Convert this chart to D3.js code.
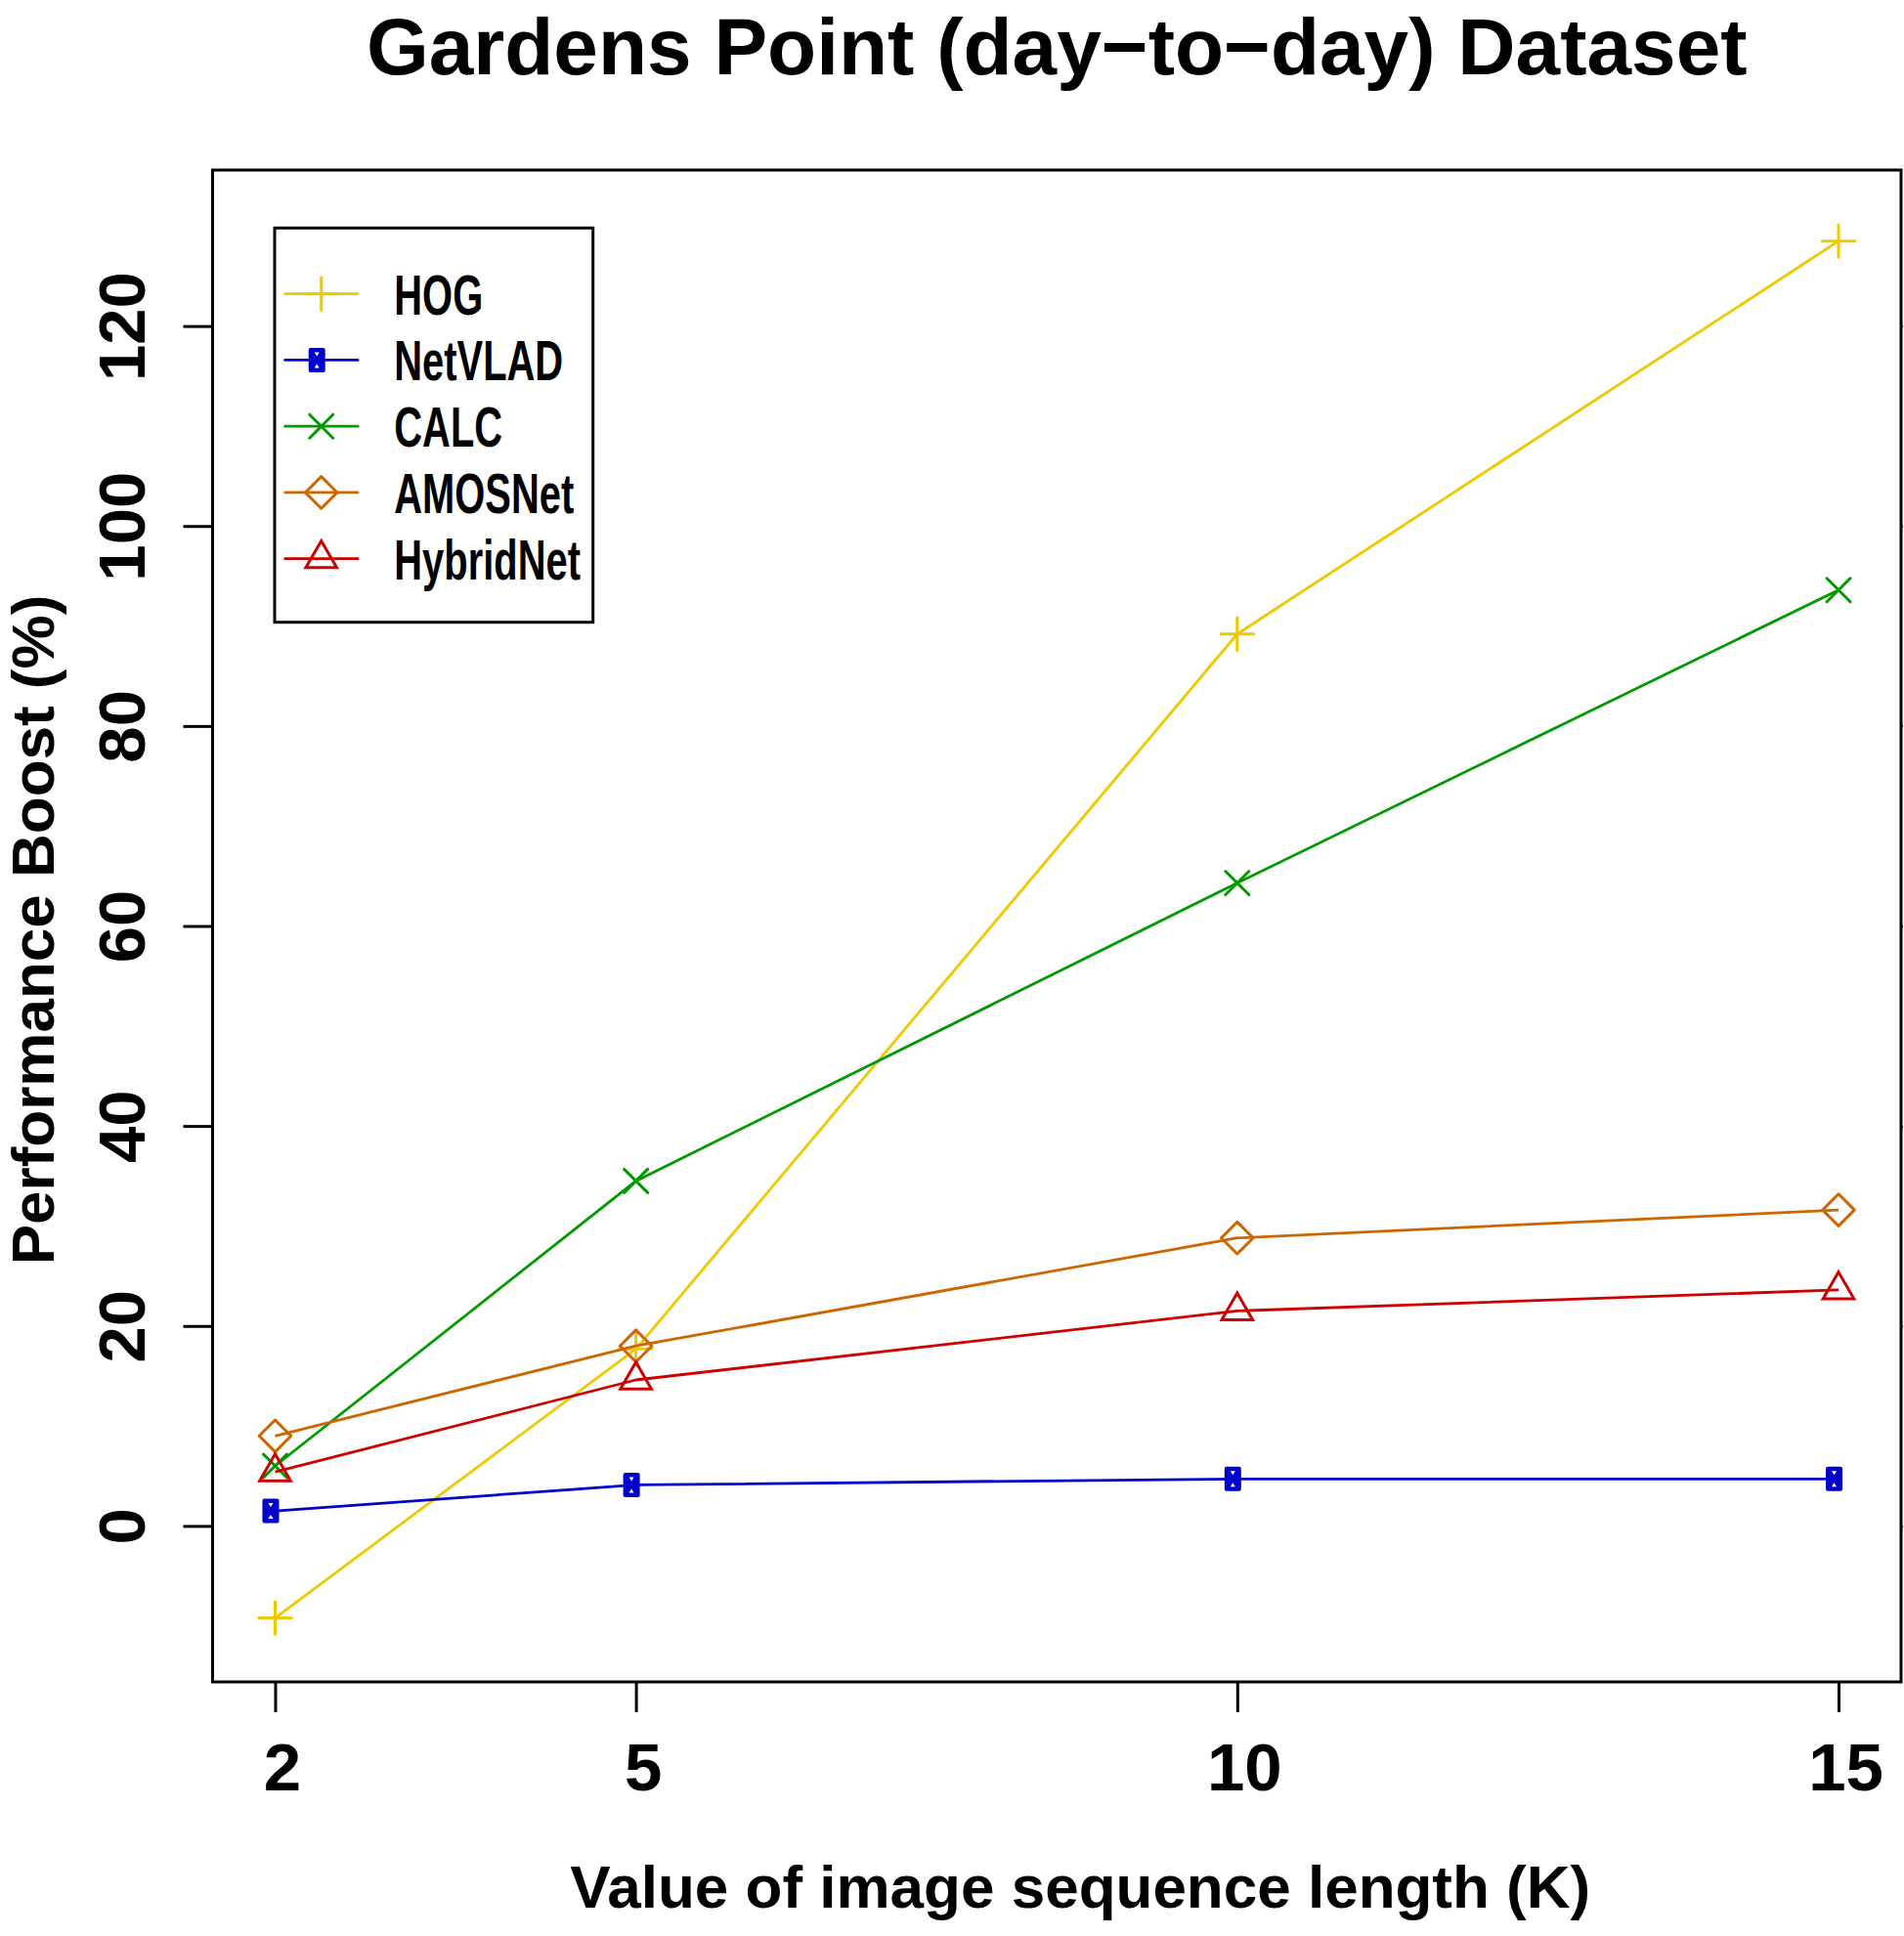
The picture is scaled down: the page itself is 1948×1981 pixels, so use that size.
<!DOCTYPE html>
<html><head><meta charset="utf-8">
<script src="https://cdn.jsdelivr.net/npm/d3@7"></script>
<style>html,body{margin:0;padding:0;background:#fff;}svg{display:block;}</style>
</head><body>
<script>
// ---- data ----
const kValues = [2, 5, 10, 15];
const hog       = [-9.2, 17.7, 89.2, 128.5];
const netvlad   = [1.5, 4.1, 4.7, 4.7];
const calc      = [6.0, 34.5, 64.3, 93.6];
const amosnet   = [9.0, 18.0, 28.8, 31.6];
const hybridnet = [5.4, 14.6, 21.5, 23.6];
const seriesNames = ["HOG", "NetVLAD", "CALC", "AMOSNet", "HybridNet"];
const yTicks = [0, 20, 40, 60, 80, 100, 120];
const xTicks = [2, 5, 10, 15];
const titleText = "Gardens Point (day\u2212to\u2212day) Dataset";
const xLabel = "Value of image sequence length (K)";
const yLabel = "Performance Boost (%)";

// ---- styles ----
const colors = {HOG:"#EEC900", NetVLAD:"#0000CD", CALC:"#009A00", AMOSNet:"#CD6600", HybridNet:"#CD0000"};
const shapes = {HOG:"plus", NetVLAD:"box", CALC:"cross", AMOSNet:"diamond", HybridNet:"triangle"};
const seriesValues = {HOG:hog, NetVLAD:netvlad, CALC:calc, AMOSNet:amosnet, HybridNet:hybridnet};

const W = 1948, H = 1981;
const plot = {left:217.5, right:1945, top:174, bottom:1721};
const FONT = "'Liberation Sans', Arial, Helvetica, sans-serif";

const svg = d3.select("body").append("svg").attr("width", W).attr("height", H);

// R-style 4% axis extension
function ext(a, b){ const d=(b-a)*0.04; return [a-d, b+d]; }
const x = d3.scaleLinear().domain(ext(2,15)).range([plot.left, plot.right]);
const y = d3.scaleLinear().domain(ext(-10,130)).range([plot.bottom, plot.top]);

// markers
function drawMarker(g, shape, color, cx, cy){
  const sw = 3;
  if (shape === "plus"){
    const r = 16.7;
    g.append("path").attr("d", `M${cx-r},${cy}H${cx+r}M${cx},${cy-r}V${cy+r}`)
      .attr("stroke", color).attr("stroke-width", sw).attr("fill","none").attr("stroke-linecap","round");
  } else if (shape === "cross"){
    const r = 12;
    g.append("path").attr("d", `M${cx-r},${cy-r}L${cx+r},${cy+r}M${cx-r},${cy+r}L${cx+r},${cy-r}`)
      .attr("stroke", color).attr("stroke-width", sw).attr("fill","none").attr("stroke-linecap","round");
  } else if (shape === "diamond"){
    const r = 16.3;
    g.append("path").attr("d", `M${cx},${cy-r}L${cx+r},${cy}L${cx},${cy+r}L${cx-r},${cy}Z`)
      .attr("stroke", color).attr("stroke-width", sw).attr("fill","none").attr("stroke-linejoin","round");
  } else if (shape === "triangle"){
    const r = 18.3, hw = 15.8;
    g.append("path").attr("d", `M${cx},${cy-r}L${cx+hw},${cy+r/2}L${cx-hw},${cy+r/2}Z`)
      .attr("stroke", color).attr("stroke-width", sw).attr("fill","none").attr("stroke-linejoin","miter");
  } else if (shape === "box"){
    const bx = cx - 4.5, w = 17, h = 25;
    g.append("rect").attr("x", bx - w/2).attr("y", cy - h/2).attr("width", w).attr("height", h)
      .attr("rx", 2).attr("fill", color);
    g.append("path").attr("d", `M${bx-2.5},${cy-8}L${bx+2.5},${cy-8}L${bx},${cy-4}Z M${bx-2.5},${cy+8}L${bx+2.5},${cy+8}L${bx},${cy+4}Z`)
      .attr("fill", "#fff");
  }
}

// series
const gS = svg.append("g");
seriesNames.forEach(name => {
  const vals = seriesValues[name];
  const pts = kValues.map((k,i)=>[x(k), y(vals[i])]);
  gS.append("path").attr("d", d3.line()(pts))
    .attr("fill","none").attr("stroke", colors[name]).attr("stroke-width", 2.8).attr("stroke-linejoin","round");
  pts.forEach(p => drawMarker(gS, shapes[name], colors[name], p[0], p[1]));
});

// frame
svg.append("rect").attr("x", plot.left).attr("y", plot.top)
  .attr("width", plot.right-plot.left).attr("height", plot.bottom-plot.top)
  .attr("fill","none").attr("stroke","#000").attr("stroke-width",3);

// axes
const xAxis = svg.append("g").attr("transform", `translate(0,${plot.bottom})`)
  .call(d3.axisBottom(x).tickValues(xTicks).tickSize(31).tickPadding(0).tickFormat(d3.format("d")));
xAxis.select(".domain").remove();
xAxis.selectAll(".tick line").attr("stroke","#000").attr("stroke-width",3);
xAxis.selectAll(".tick text").attr("y", 111).attr("x", 7).attr("dy", null)
  .attr("font-family", FONT).attr("font-weight","bold").attr("font-size", 69).attr("fill","#000");

const yAxis = svg.append("g").attr("transform", `translate(${plot.left},0)`)
  .call(d3.axisLeft(y).tickValues(yTicks).tickSize(30).tickFormat(d3.format("d")));
yAxis.select(".domain").remove();
yAxis.selectAll(".tick line").attr("stroke","#000").attr("stroke-width",3);
yAxis.selectAll(".tick text").attr("x", null).attr("dy", null)
  .attr("transform", "translate(-70,0) rotate(-90)").attr("text-anchor","middle")
  .attr("font-family", FONT).attr("font-weight","bold").attr("font-size", 67).attr("fill","#000");

// tiny stubs on right
const rAxis = svg.append("g").attr("transform", `translate(${plot.right},0)`)
  .call(d3.axisRight(y).tickValues(yTicks).tickSize(2).tickFormat(""));
rAxis.select(".domain").remove();
rAxis.selectAll(".tick line").attr("stroke","#000").attr("stroke-width",1.5);

// title & labels
svg.append("text").attr("x", (plot.left+plot.right)/2).attr("y", 76)
  .attr("text-anchor","middle").attr("font-family",FONT).attr("font-weight","bold")
  .attr("font-size", 82).text(titleText);
svg.append("text").attr("x", (plot.left+plot.right)/2 + 24).attr("y", 1952)
  .attr("text-anchor","middle").attr("font-family",FONT).attr("font-weight","bold")
  .attr("font-size", 62).text(xLabel);
svg.append("text").attr("transform", `translate(55,${(plot.top+plot.bottom)/2 + 4}) rotate(-90)`)
  .attr("text-anchor","middle").attr("font-family",FONT).attr("font-weight","bold")
  .attr("font-size", 62).text(yLabel);

// legend
const leg = {x:281, y:233.3, w:325.7, h:403.4, row0:300.7, dy:67.75, lx0:291.7, lx1:366, mx:328.7, tx:403.3};
const gL = svg.append("g");
gL.append("rect").attr("x", leg.x).attr("y", leg.y).attr("width", leg.w).attr("height", leg.h)
  .attr("fill","#fff").attr("stroke","#000").attr("stroke-width",3);
seriesNames.forEach((name,i) => {
  const cy = leg.row0 + i*leg.dy;
  gL.append("line").attr("x1", leg.lx0).attr("x2", leg.lx1).attr("y1", cy).attr("y2", cy)
    .attr("stroke", colors[name]).attr("stroke-width", 2.8).attr("stroke-linecap","round");
  drawMarker(gL, shapes[name], colors[name], leg.mx, cy);
  gL.append("text").attr("transform", `translate(${leg.tx},${cy+21}) scale(0.70,1)`)
    .attr("font-family",FONT).attr("font-weight","bold").attr("font-size", 57).text(name);
});
</script>
</body></html>
